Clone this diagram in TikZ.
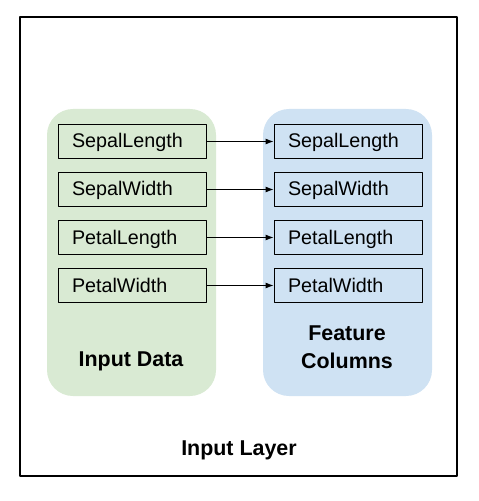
\documentclass[tikz,border=0pt]{standalone}
\usepackage{fontspec}
\setmainfont{Liberation Sans}
\usetikzlibrary{arrows.meta}
\definecolor{datagreen}{HTML}{D9EAD3}
\definecolor{colblue}{HTML}{CFE2F3}
\begin{document}
\begin{tikzpicture}[x=1bp, y=-1bp, line join = round,
	panel/.style={rounded corners=26bp, minimum width=169bp, minimum height=287bp, inner sep=0pt},
	featbox/.style={draw, line width=0.9bp, minimum width=148bp, minimum height=34bp, inner xsep=14bp, inner ysep=0pt, text width=120bp, text height=15bp, text depth=2bp, align=left, font=\fontsize{19.8}{22}\selectfont},
	title/.style={align=center, font=\fontsize{21.5}{28}\selectfont\bfseries}]
	\useasboundingbox (0,0) rectangle (479,501);
	\draw[line width=1.2bp] (20,17) rectangle (457,476);
	\node[panel, fill=datagreen] (datapanel) at (131.5,252.5) {};
	\node[panel, fill=colblue] (colpanel) at (347.5,252.5) {};
	\foreach \name [count=\i] in {SepalLength,SepalWidth,PetalLength,PetalWidth} {
		\node[featbox] (in\i) at (132,{141.5+48*(\i-1)}) {\name};
		\node[featbox] (fc\i) at (348,{141.5+48*(\i-1)}) {\name};
		\draw[line width=0.9bp, -{Latex[length=8bp, width=6bp]}] (in\i) -- (fc\i);
	}
	\node[title] (datalabel) at (131,361) {Input Data};
	\node[title] (collabel) at (347,347) {Feature\\Columns};
	\node[title] (layerlabel) at (239,450) {Input Layer};
\end{tikzpicture}
\end{document}
